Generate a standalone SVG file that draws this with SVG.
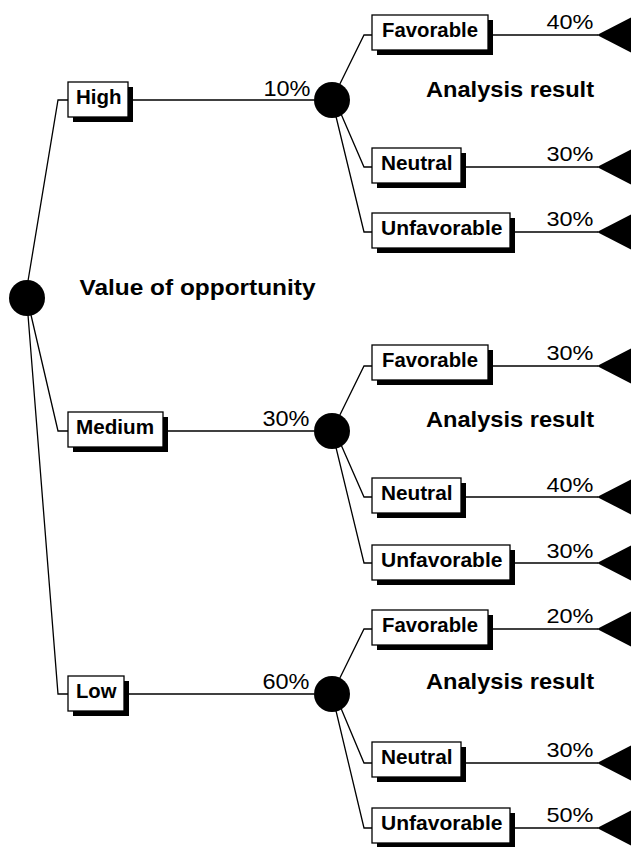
<svg xmlns="http://www.w3.org/2000/svg" xmlns:xlink="http://www.w3.org/1999/xlink" width="631" height="847" viewBox="0 0 631 847">
  <style>
    .wire { fill: none; stroke: #000; stroke-width: 1.3; }
    .dot { fill: #000; }
    .end { fill: #000; }
    .box { fill: #fff; stroke: #000; stroke-width: 1.3; }
    .shadow { fill: #000; }
    .lbl { font-family: "Liberation Sans", Arial, sans-serif; font-weight: bold; font-size: 20px; fill: #000; }
    .pct { font-family: "Liberation Sans", Arial, sans-serif; font-size: 22px; fill: #000; }
    .pct2 { font-family: "Liberation Sans", Arial, sans-serif; font-size: 21px; fill: #000; }
    .title { font-family: "Liberation Sans", Arial, sans-serif; font-weight: bold; font-size: 22.5px; fill: #000; }
  </style>
  <defs>
    <!-- terminal (end) marker: left-pointing filled triangle -->
    <path id="terminal" d="M0 0 L43 -22 L43 22 Z"/>
  </defs>

  <rect width="631" height="847" fill="#fff"/>

  <!-- connectors -->
  <g id="connectors" class="wire">
    <!-- root to first-level branches -->
    <path d="M28 281 L58 100 L68 100"/>
    <path d="M31 315 L58 431 L68 431"/>
    <path d="M28 315 L58 694 L68 694"/>
    <path d="M128 100 L314 100"/>
    <path d="M163 431 L314 431"/>
    <path d="M124 694 L314 694"/>
    <!-- High chance branches -->
    <path d="M332 100 L364 35 L372 35"/>
    <path d="M335 100 L364 167 L372 167"/>
    <path d="M332 100 L364 232 L372 232"/>
    <path d="M488 35 L598 35"/>
    <path d="M461 167 L598 167"/>
    <path d="M510 232 L598 232"/>
    <!-- Medium chance branches -->
    <path d="M332 431 L364 366 L372 366"/>
    <path d="M335 431 L364 497 L372 497"/>
    <path d="M332 431 L364 563 L372 563"/>
    <path d="M488 366 L598 366"/>
    <path d="M461 497 L598 497"/>
    <path d="M510 563 L598 563"/>
    <!-- Low chance branches -->
    <path d="M332 694 L364 629 L372 629"/>
    <path d="M335 694 L364 763 L372 763"/>
    <path d="M332 694 L364 828 L372 828"/>
    <path d="M488 629 L598 629"/>
    <path d="M461 763 L598 763"/>
    <path d="M510 828 L598 828"/>
  </g>

  <!-- root chance node -->
  <g id="root">
    <circle class="dot" cx="27" cy="298" r="18"/>
    <text class="title" x="79.5" y="295" textLength="236" lengthAdjust="spacingAndGlyphs">Value of opportunity</text>
  </g>

  <!-- first-level branches -->
  <g id="high">
    <rect class="shadow" x="73" y="87" width="60" height="35"/>
    <rect class="box" x="68" y="82" width="60" height="35"/>
    <text class="lbl" x="76" y="103.5" textLength="45.5" lengthAdjust="spacingAndGlyphs">High</text>
    <text class="pct" x="263.5" y="95.5" textLength="47" lengthAdjust="spacingAndGlyphs">10%</text>
  </g>
  <g id="medium">
    <rect class="shadow" x="73" y="417" width="95" height="35"/>
    <rect class="box" x="68" y="412" width="95" height="35"/>
    <text class="lbl" x="76" y="433.5" textLength="78" lengthAdjust="spacingAndGlyphs">Medium</text>
    <text class="pct" x="262.5" y="426" textLength="47" lengthAdjust="spacingAndGlyphs">30%</text>
  </g>
  <g id="low">
    <rect class="shadow" x="73" y="681" width="56" height="35"/>
    <rect class="box" x="68" y="676" width="56" height="35"/>
    <text class="lbl" x="76" y="697.5" textLength="40.5" lengthAdjust="spacingAndGlyphs">Low</text>
    <text class="pct" x="262.5" y="689" textLength="47" lengthAdjust="spacingAndGlyphs">60%</text>
  </g>

  <!-- second-level chance nodes -->
  <g id="high-result">
    <circle class="dot" cx="332" cy="100" r="18"/>
    <text class="title" x="426" y="96.5" textLength="168" lengthAdjust="spacingAndGlyphs">Analysis result</text>
  </g>
  <g id="medium-result">
    <circle class="dot" cx="332" cy="431" r="18"/>
    <text class="title" x="426" y="426.5" textLength="168" lengthAdjust="spacingAndGlyphs">Analysis result</text>
  </g>
  <g id="low-result">
    <circle class="dot" cx="332" cy="694" r="18"/>
    <text class="title" x="426" y="688.5" textLength="168" lengthAdjust="spacingAndGlyphs">Analysis result</text>
  </g>

  <!-- High: outcomes -->
  <g id="high-favorable">
    <rect class="shadow" x="377" y="20" width="116" height="35"/>
    <rect class="box" x="372" y="15" width="116" height="35"/>
    <text class="lbl" x="382" y="36.5" textLength="96" lengthAdjust="spacingAndGlyphs">Favorable</text>
    <text class="pct2" x="546.5" y="29" textLength="47" lengthAdjust="spacingAndGlyphs">40%</text>
    <use xlink:href="#terminal" class="end" x="597" y="35"/>
  </g>
  <g id="high-neutral">
    <rect class="shadow" x="377" y="153" width="89" height="35"/>
    <rect class="box" x="372" y="148" width="89" height="35"/>
    <text class="lbl" x="381" y="169.5" textLength="71.5" lengthAdjust="spacingAndGlyphs">Neutral</text>
    <text class="pct2" x="546.5" y="161" textLength="47" lengthAdjust="spacingAndGlyphs">30%</text>
    <use xlink:href="#terminal" class="end" x="597" y="167"/>
  </g>
  <g id="high-unfavorable">
    <rect class="shadow" x="377" y="218" width="138" height="35"/>
    <rect class="box" x="372" y="213" width="138" height="35"/>
    <text class="lbl" x="381" y="234.5" textLength="121.5" lengthAdjust="spacingAndGlyphs">Unfavorable</text>
    <text class="pct2" x="546.5" y="226" textLength="47" lengthAdjust="spacingAndGlyphs">30%</text>
    <use xlink:href="#terminal" class="end" x="597" y="232"/>
  </g>

  <!-- Medium: outcomes -->
  <g id="medium-favorable">
    <rect class="shadow" x="377" y="350" width="116" height="35"/>
    <rect class="box" x="372" y="345" width="116" height="35"/>
    <text class="lbl" x="382" y="366.5" textLength="96" lengthAdjust="spacingAndGlyphs">Favorable</text>
    <text class="pct2" x="546.5" y="360" textLength="47" lengthAdjust="spacingAndGlyphs">30%</text>
    <use xlink:href="#terminal" class="end" x="597" y="366"/>
  </g>
  <g id="medium-neutral">
    <rect class="shadow" x="377" y="483" width="89" height="35"/>
    <rect class="box" x="372" y="478" width="89" height="35"/>
    <text class="lbl" x="381" y="499.5" textLength="71.5" lengthAdjust="spacingAndGlyphs">Neutral</text>
    <text class="pct2" x="546.5" y="491.5" textLength="47" lengthAdjust="spacingAndGlyphs">40%</text>
    <use xlink:href="#terminal" class="end" x="597" y="497"/>
  </g>
  <g id="medium-unfavorable">
    <rect class="shadow" x="377" y="550" width="138" height="35"/>
    <rect class="box" x="372" y="545" width="138" height="35"/>
    <text class="lbl" x="381" y="566.5" textLength="121.5" lengthAdjust="spacingAndGlyphs">Unfavorable</text>
    <text class="pct2" x="546.5" y="557.5" textLength="47" lengthAdjust="spacingAndGlyphs">30%</text>
    <use xlink:href="#terminal" class="end" x="597" y="563"/>
  </g>

  <!-- Low: outcomes -->
  <g id="low-favorable">
    <rect class="shadow" x="377" y="615" width="116" height="35"/>
    <rect class="box" x="372" y="610" width="116" height="35"/>
    <text class="lbl" x="382" y="631.5" textLength="96" lengthAdjust="spacingAndGlyphs">Favorable</text>
    <text class="pct2" x="546.5" y="623" textLength="47" lengthAdjust="spacingAndGlyphs">20%</text>
    <use xlink:href="#terminal" class="end" x="597" y="629"/>
  </g>
  <g id="low-neutral">
    <rect class="shadow" x="377" y="747" width="89" height="35"/>
    <rect class="box" x="372" y="742" width="89" height="35"/>
    <text class="lbl" x="381" y="763.5" textLength="71.5" lengthAdjust="spacingAndGlyphs">Neutral</text>
    <text class="pct2" x="546.5" y="757" textLength="47" lengthAdjust="spacingAndGlyphs">30%</text>
    <use xlink:href="#terminal" class="end" x="597" y="763"/>
  </g>
  <g id="low-unfavorable">
    <rect class="shadow" x="377" y="813" width="138" height="35"/>
    <rect class="box" x="372" y="808" width="138" height="35"/>
    <text class="lbl" x="381" y="829.5" textLength="121.5" lengthAdjust="spacingAndGlyphs">Unfavorable</text>
    <text class="pct2" x="546.5" y="822" textLength="47" lengthAdjust="spacingAndGlyphs">50%</text>
    <use xlink:href="#terminal" class="end" x="597" y="828"/>
  </g>
</svg>
